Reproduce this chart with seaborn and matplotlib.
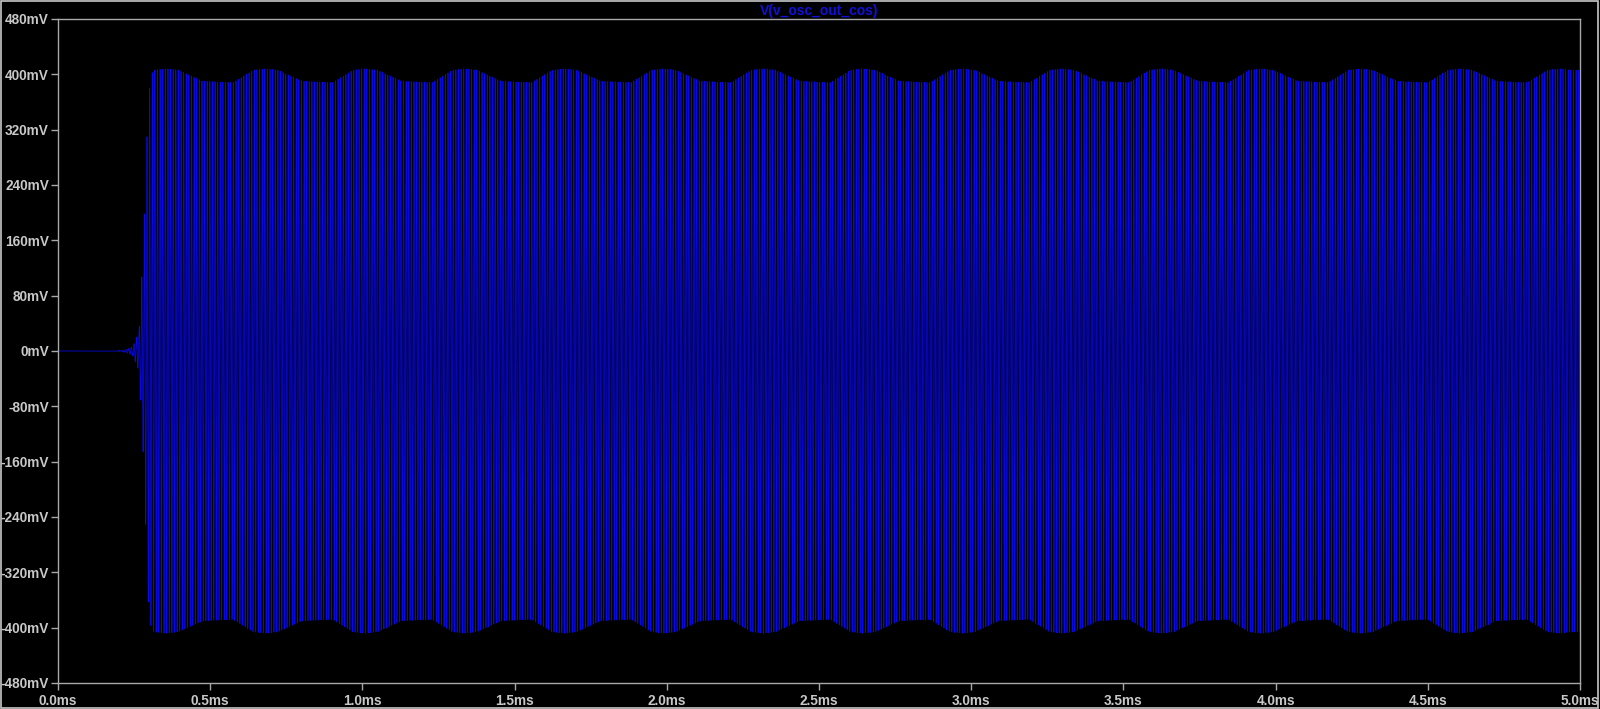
import numpy as np
import pandas as pd
import matplotlib
matplotlib.use("Agg")
import matplotlib.pyplot as plt
import seaborn as sns
from matplotlib.ticker import FuncFormatter, MultipleLocator
from matplotlib.patches import Rectangle


# Values
trace_name = "V(v_osc_out_cos)"

# start-up of the oscillation (time in ms, peak amplitude in mV)
startup_t_ms = [0.00, 0.18, 0.21, 0.23, 0.246, 0.266, 0.279, 0.288, 0.296, 0.306]
startup_amp_mv = [0, 0, 1, 3, 7, 29, 140, 250, 360, 400]

# centres of the high bumps on the envelope (ms)
bump_centre_ms = [0.355, 0.682, 1.009, 1.336, 1.663, 1.990, 2.317, 2.644,
                  2.971, 3.298, 3.625, 3.952, 4.279, 4.606, 4.933]
bump_high_mv = 408
bump_shoulder_mv = 406
dip_mid_mv = 390
dip_low_mv = 388

carrier_khz = 116.3
samples_per_cycle = 24


def build_envelope():
    env_t = list(startup_t_ms)
    env_a = list(startup_amp_mv)
    for c in bump_centre_ms:
        for dt, a in [(-0.04, bump_shoulder_mv), (0.0, bump_high_mv), (0.04, bump_shoulder_mv),
                      (0.12, dip_mid_mv), (0.22, dip_low_mv)]:
            if c + dt <= 5.0:
                env_t.append(c + dt)
                env_a.append(a)
    return np.array(env_t), np.array(env_a)


def build_trace():
    env_t, env_a = build_envelope()
    n = int(5.0 * carrier_khz * samples_per_cycle) + 1
    t = np.linspace(0, 5.0, n)
    amp = np.interp(t, env_t, env_a)
    v = amp * np.cos(2 * np.pi * carrier_khz * t)
    return pd.DataFrame({"time_ms": t, "v_mv": v})


def plot_trace(df):
    sns.set_style("dark")
    plt.rcParams["font.family"] = ["Liberation Sans", "DejaVu Sans"]

    fig = plt.figure(figsize=(16, 7.09), dpi=100, facecolor="black")
    ax = fig.add_axes([58 / 1600, 1 - 683 / 709, (1580 - 58) / 1600, (683 - 19) / 709])
    ax.set_facecolor("black")

    sns.lineplot(data=df, x="time_ms", y="v_mv", ax=ax, color="#0808ea",
                 linewidth=0.55, estimator=None, sort=False)

    ax.set_xlim(0, 5.0)
    ax.set_ylim(-480, 480)
    ax.xaxis.set_major_locator(MultipleLocator(0.5))
    ax.yaxis.set_major_locator(MultipleLocator(80))
    ax.xaxis.set_major_formatter(FuncFormatter(lambda v, p: f"{v:.1f}ms"))
    ax.yaxis.set_major_formatter(FuncFormatter(lambda v, p: f"{v:.0f}mV"))
    ax.set_xlabel("")
    ax.set_ylabel("")
    ax.grid(False)

    for s in ax.spines.values():
        s.set_visible(True)
        s.set_color("#a8a8a8")
        s.set_linewidth(1.0)
    ax.tick_params(axis="both", direction="out", length=5, width=1, color="#a8a8a8",
                   labelcolor="#c8c8c8", labelsize=9.8, pad=1.5)
    ax.tick_params(axis="x", bottom=True, top=False, pad=3)
    ax.tick_params(axis="y", left=True, right=False)
    for lbl in ax.get_xticklabels() + ax.get_yticklabels():
        lbl.set_fontweight("bold")

    ax.set_title(trace_name, color="#1010d8", fontsize=10, fontweight="bold", pad=3)

    # thin frame round the whole window
    fig.patches.append(Rectangle((0.0005, 0.001), 0.998, 0.997, transform=fig.transFigure,
                                 fill=False, edgecolor="#c8c8c8", linewidth=1.2))

    fig.savefig("out.png", dpi=100, facecolor="black")


def main():
    df = build_trace()
    plot_trace(df)


if __name__ == "__main__":
    main()
